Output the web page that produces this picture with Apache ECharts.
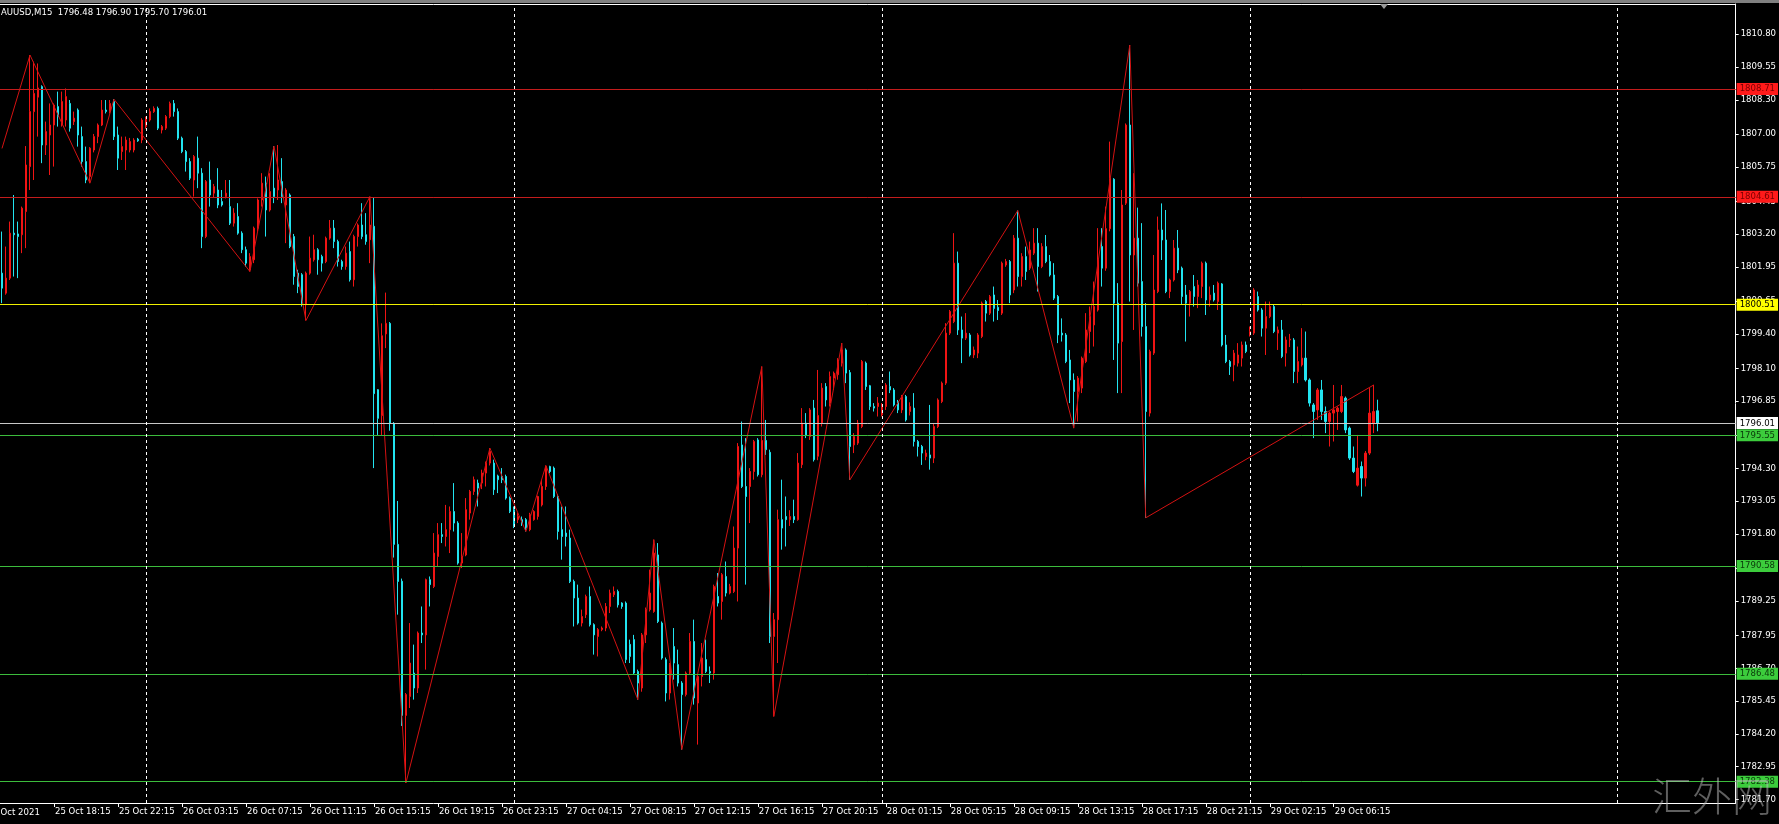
<!DOCTYPE html>
<html><head><meta charset="utf-8">
<script src="https://cdn.jsdelivr.net/npm/echarts@6/dist/echarts.min.js"></script>
<style>html,body{margin:0;padding:0;background:#000;overflow:hidden}#c{width:1779px;height:824px}</style>
</head><body><div id="c"></div>
<script>
const symbolName = 'AUUSD,M15';
const firstDateLabel = '25 Oct 2021';
const slotCount = 434; // bars + empty right shift area
// [open, close, low, high]
const candles = [
[1801.71,1801.14,1800.57,1803.29],[1800.95,1801.52,1800.89,1802.72],[1801.52,1803.23,1801.45,1803.67],[1803.23,1803.17,1801.58,1804.68],
[1803.20,1803.10,1801.52,1803.67],[1803.17,1804.18,1802.47,1804.24],[1804.05,1805.82,1802.66,1806.54],[1805.76,1807.85,1804.87,1810.00],
[1807.85,1808.54,1805.25,1809.75],[1808.40,1808.75,1806.90,1809.68],[1808.80,1806.58,1805.89,1808.85],[1806.58,1807.09,1806.20,1807.47],
[1806.96,1807.34,1805.44,1808.16],[1807.34,1808.10,1805.76,1808.16],[1808.04,1807.66,1807.28,1808.61],[1807.34,1808.23,1807.28,1808.61],
[1807.53,1808.42,1807.28,1808.73],[1808.16,1807.22,1807.09,1808.29],[1807.47,1807.60,1807.34,1807.85],[1807.91,1806.96,1806.52,1807.97],
[1806.90,1805.95,1805.76,1807.28],[1805.95,1805.25,1805.13,1806.52],[1805.38,1806.46,1805.13,1806.50],[1806.39,1806.90,1806.30,1807.00],
[1806.90,1807.34,1806.65,1807.40],[1807.34,1807.91,1807.30,1808.29],[1807.91,1807.85,1807.78,1808.29],[1807.85,1808.16,1807.78,1808.29],
[1808.23,1806.90,1806.77,1808.32],[1806.96,1806.08,1805.63,1807.28],[1806.33,1806.52,1806.01,1806.90],[1806.39,1806.77,1805.63,1806.90],
[1806.39,1806.71,1806.30,1806.85],[1806.39,1806.77,1806.30,1806.84],[1806.80,1806.74,1806.70,1806.85],[1806.77,1807.53,1806.65,1807.60],
[1807.28,1807.60,1807.20,1807.66],[1807.53,1807.85,1807.47,1807.97],[1807.85,1807.97,1807.80,1808.05],[1807.97,1807.22,1807.15,1808.04],
[1807.15,1807.28,1807.02,1807.34],[1807.22,1807.66,1807.15,1807.72],[1807.66,1808.16,1807.60,1808.23],[1808.16,1807.85,1807.66,1808.29],
[1807.85,1806.84,1806.77,1807.97],[1806.84,1806.33,1806.27,1806.90],[1806.33,1805.95,1805.57,1806.39],[1805.95,1805.32,1805.25,1806.08],
[1805.25,1806.14,1804.62,1806.20],[1806.08,1805.51,1804.94,1806.90],[1805.51,1803.10,1802.66,1805.70],[1803.10,1805.19,1803.04,1805.25],
[1805.25,1804.68,1804.24,1805.95],[1804.75,1805.00,1804.60,1805.10],[1804.87,1804.30,1804.18,1805.70],[1804.43,1804.30,1804.24,1804.87],
[1804.62,1804.75,1804.55,1805.25],[1804.24,1803.61,1803.54,1805.25],[1803.61,1803.99,1803.48,1804.18],[1803.86,1803.23,1803.17,1804.37],
[1803.23,1802.60,1802.47,1803.30],[1802.60,1802.09,1801.96,1802.72],[1801.84,1802.34,1801.77,1802.47],[1802.22,1803.42,1802.09,1803.48],
[1803.42,1804.49,1803.29,1804.55],[1804.49,1805.13,1804.24,1805.51],[1805.13,1804.11,1803.10,1805.38],[1804.11,1804.81,1804.05,1805.51],
[1804.94,1804.62,1804.37,1806.54],[1804.87,1805.25,1804.49,1806.58],[1805.19,1804.62,1804.37,1806.08],[1804.30,1804.87,1802.85,1804.94],
[1804.68,1802.72,1802.66,1804.74],[1803.10,1801.58,1801.27,1803.20],[1801.71,1801.20,1800.95,1801.84],[1801.65,1800.57,1800.44,1801.71],
[1800.51,1801.71,1799.91,1801.77],[1801.71,1802.28,1801.65,1803.10],[1802.22,1802.60,1802.15,1803.17],[1802.60,1802.22,1801.65,1802.66],
[1802.34,1802.09,1801.77,1802.41],[1802.15,1803.04,1802.09,1803.10],[1803.04,1803.42,1802.98,1803.73],[1803.42,1802.91,1802.66,1803.73],
[1802.91,1802.15,1801.96,1802.98],[1802.15,1801.96,1801.84,1802.22],[1801.96,1802.47,1801.84,1802.72],[1802.53,1801.46,1801.39,1802.91],
[1801.46,1803.10,1801.20,1803.17],[1803.10,1803.54,1802.72,1803.60],[1803.54,1803.10,1803.00,1804.37],[1803.17,1802.91,1802.79,1803.99],
[1802.98,1803.54,1802.09,1804.62],[1803.49,1797.13,1794.30,1804.58],[1797.28,1796.19,1795.56,1797.30],[1796.30,1799.33,1795.56,1799.80],
[1799.40,1799.80,1798.86,1800.97],[1799.80,1796.00,1795.72,1799.85],[1796.00,1791.40,1790.90,1796.05],[1791.40,1789.99,1788.73,1793.05],
[1790.00,1784.90,1784.50,1790.10],[1784.90,1785.69,1782.33,1785.75],[1785.62,1786.89,1785.18,1788.41],[1786.51,1785.94,1785.50,1787.59],
[1785.94,1788.03,1785.75,1788.09],[1788.03,1787.96,1787.65,1789.04],[1787.96,1790.06,1786.64,1790.10],[1790.06,1789.87,1789.04,1790.18],
[1789.80,1791.07,1789.74,1791.83],[1790.94,1791.77,1790.56,1792.21],[1791.77,1791.70,1791.45,1792.21],[1791.70,1791.96,1791.32,1792.90],
[1791.96,1792.65,1791.07,1792.84],[1792.65,1792.21,1791.89,1793.73],[1792.21,1790.69,1790.63,1792.28],[1790.69,1790.94,1790.50,1791.83],
[1791.00,1792.72,1790.95,1793.16],[1792.59,1793.41,1792.34,1793.47],[1793.41,1793.86,1793.28,1793.98],[1793.73,1793.54,1792.84,1793.86],
[1793.73,1794.11,1793.50,1794.24],[1794.11,1794.49,1793.60,1794.55],[1794.49,1794.93,1794.40,1795.06],[1794.49,1793.48,1793.28,1794.62],
[1794.00,1793.86,1793.35,1794.05],[1793.98,1793.86,1793.73,1794.30],[1793.98,1793.16,1793.10,1794.05],[1793.16,1792.65,1792.59,1793.22],
[1792.72,1792.08,1792.02,1792.84],[1792.34,1792.46,1792.21,1792.59],[1792.34,1792.21,1792.10,1792.46],[1792.34,1792.02,1791.89,1792.40],
[1791.96,1792.53,1791.90,1792.60],[1792.34,1792.65,1792.30,1792.70],[1792.46,1793.22,1792.34,1793.25],[1792.90,1793.60,1792.84,1793.86],
[1793.60,1794.36,1793.47,1794.40],[1794.36,1794.17,1794.10,1794.39],[1794.30,1793.22,1793.16,1794.36],[1793.22,1791.89,1791.58,1793.30],
[1791.96,1791.70,1790.82,1792.84],[1791.83,1791.70,1791.32,1792.84],[1791.64,1789.99,1789.93,1791.96],[1789.99,1789.36,1788.28,1790.06],
[1789.36,1788.41,1788.35,1789.87],[1788.41,1788.66,1788.28,1788.92],[1788.73,1789.42,1788.60,1789.49],[1789.42,1788.35,1788.28,1789.80],
[1788.35,1787.96,1787.21,1788.40],[1787.90,1788.16,1787.14,1788.22],[1788.16,1788.22,1788.10,1788.28],[1788.22,1789.04,1788.10,1789.17],
[1789.04,1789.55,1788.79,1789.68],[1789.49,1789.61,1789.40,1789.80],[1789.61,1789.10,1789.00,1789.68],[1789.17,1789.04,1788.95,1789.20],
[1789.17,1787.02,1786.89,1789.23],[1787.60,1787.14,1786.89,1787.78],[1787.78,1786.51,1786.45,1787.96],[1786.57,1786.13,1785.50,1786.64],
[1785.94,1787.96,1785.80,1788.03],[1787.96,1788.92,1787.65,1789.00],[1788.92,1789.55,1788.85,1790.44],[1788.85,1791.07,1788.80,1791.58],
[1791.00,1788.47,1788.41,1791.45],[1788.41,1787.08,1787.02,1788.47],[1787.02,1785.75,1785.43,1787.10],[1785.75,1786.83,1785.50,1786.89],
[1787.52,1786.89,1786.26,1788.22],[1786.83,1786.13,1786.00,1787.40],[1786.13,1785.69,1783.60,1786.20],[1785.69,1786.51,1785.62,1786.57],
[1786.51,1787.71,1786.45,1788.03],[1787.71,1785.56,1785.31,1788.54],[1785.37,1786.38,1783.79,1786.45],[1786.38,1787.08,1786.00,1787.65],
[1787.02,1786.57,1786.51,1787.78],[1786.57,1786.51,1786.13,1786.76],[1786.51,1789.80,1786.26,1789.87],[1789.42,1789.17,1789.04,1790.31],
[1789.23,1790.25,1788.54,1790.31],[1790.18,1789.55,1789.42,1790.75],[1789.55,1789.80,1789.50,1789.90],[1789.61,1791.26,1789.55,1792.08],
[1791.26,1795.12,1789.23,1795.25],[1795.18,1793.60,1793.54,1796.07],[1793.60,1793.22,1789.87,1795.44],[1793.60,1794.17,1792.21,1794.30],
[1794.17,1795.31,1793.86,1795.37],[1795.37,1794.05,1793.98,1795.44],[1794.05,1795.35,1793.95,1798.16],[1795.35,1795.00,1794.80,1796.13],
[1794.90,1787.90,1787.65,1795.00],[1787.90,1788.54,1784.86,1788.79],[1788.54,1792.34,1786.89,1792.72],[1792.34,1792.02,1791.20,1793.86],
[1792.46,1792.34,1791.32,1793.22],[1792.34,1792.46,1792.10,1792.70],[1792.46,1792.34,1792.21,1793.10],[1792.34,1794.49,1792.30,1794.87],
[1794.43,1796.01,1794.30,1796.58],[1796.01,1795.56,1795.44,1796.39],[1795.50,1796.51,1795.37,1796.58],[1796.58,1794.62,1794.55,1796.89],
[1794.75,1796.30,1794.60,1798.03],[1796.01,1797.34,1795.88,1797.53],[1797.40,1796.89,1796.64,1797.53],[1796.77,1797.78,1796.64,1797.97],
[1797.72,1797.91,1797.27,1797.97],[1797.85,1798.41,1797.66,1798.48],[1798.29,1798.79,1798.16,1799.05],[1798.79,1797.91,1797.53,1798.85],
[1797.93,1795.12,1793.85,1798.03],[1795.18,1795.50,1794.87,1795.63],[1795.25,1796.01,1795.18,1796.13],[1795.88,1798.35,1795.82,1798.41],
[1798.29,1797.40,1797.27,1798.35],[1797.43,1796.64,1796.51,1797.46],[1796.64,1796.58,1796.45,1796.77],[1796.64,1796.77,1796.26,1797.00],
[1796.32,1796.64,1796.26,1796.77],[1796.64,1797.46,1796.51,1797.53],[1797.40,1797.27,1797.15,1797.97],[1797.27,1796.70,1796.64,1797.34],
[1796.83,1796.51,1796.39,1796.89],[1796.51,1797.02,1796.39,1797.08],[1797.02,1796.13,1796.07,1797.08],[1796.45,1796.64,1796.30,1796.80],
[1796.58,1795.31,1795.12,1797.15],[1795.31,1795.12,1794.74,1795.37],[1795.12,1794.87,1794.42,1795.18],[1794.74,1794.87,1794.60,1795.00],
[1794.80,1794.68,1794.24,1796.70],[1794.68,1795.88,1794.49,1796.01],[1795.88,1796.89,1795.82,1796.95],[1796.83,1797.53,1796.77,1797.59],
[1797.53,1799.43,1797.46,1799.81],[1799.43,1800.25,1799.36,1800.31],[1799.87,1802.09,1799.81,1803.23],[1802.09,1799.55,1799.36,1802.53],
[1799.55,1799.24,1798.29,1800.06],[1799.24,1799.43,1799.17,1800.19],[1799.36,1798.60,1798.54,1799.43],[1798.60,1798.79,1798.48,1798.92],
[1798.67,1799.36,1798.48,1799.43],[1799.30,1800.57,1799.24,1800.63],[1800.63,1800.19,1799.87,1800.69],[1800.19,1800.82,1800.12,1800.88],
[1800.88,1800.37,1799.87,1801.20],[1800.41,1800.29,1799.93,1800.69],[1800.19,1802.09,1800.12,1802.15],[1802.02,1802.15,1801.95,1802.25],
[1802.15,1800.88,1800.57,1802.21],[1801.07,1803.04,1800.95,1803.16],[1803.04,1801.58,1801.20,1804.09],[1801.58,1802.34,1801.20,1802.47],
[1802.34,1801.77,1801.45,1802.72],[1801.90,1802.59,1801.83,1802.91],[1802.47,1802.85,1802.40,1803.42],[1802.85,1801.96,1801.01,1803.42],
[1801.96,1802.72,1801.90,1802.85],[1802.72,1802.15,1802.09,1803.16],[1802.15,1801.64,1801.58,1802.40],[1801.64,1800.76,1800.69,1802.09],
[1800.82,1799.36,1799.05,1800.88],[1799.43,1799.36,1799.11,1799.99],[1799.36,1798.35,1798.29,1799.43],[1798.41,1797.65,1796.77,1798.79],
[1797.65,1797.21,1795.82,1797.90],[1797.21,1797.72,1796.07,1797.80],[1797.34,1798.48,1797.15,1798.54],[1798.35,1799.55,1798.29,1800.19],
[1799.49,1800.06,1798.67,1800.44],[1799.74,1800.44,1798.92,1801.39],[1800.31,1802.21,1800.25,1803.42],[1802.72,1801.90,1801.20,1803.42],
[1801.90,1803.40,1801.80,1804.24],[1803.40,1805.32,1803.30,1806.71],[1805.28,1800.57,1798.41,1805.32],[1800.57,1799.05,1797.15,1801.33],
[1799.11,1804.30,1797.15,1804.87],[1804.37,1807.34,1804.30,1807.40],[1807.34,1802.40,1800.63,1810.38],[1802.40,1803.04,1799.55,1805.51],
[1803.04,1801.33,1801.20,1804.20],[1801.39,1799.68,1799.30,1803.61],[1799.68,1796.45,1792.41,1800.57],[1796.39,1798.73,1796.26,1798.80],
[1798.67,1801.07,1798.60,1802.40],[1801.01,1803.35,1800.95,1803.86],[1803.35,1802.97,1802.21,1804.36],[1802.97,1801.01,1800.95,1804.11],
[1801.01,1801.45,1800.76,1801.50],[1801.45,1802.66,1801.39,1802.97],[1802.66,1801.83,1801.71,1803.35],[1801.90,1800.82,1800.50,1801.96],
[1800.88,1800.57,1799.11,1801.26],[1800.57,1801.01,1800.06,1801.07],[1801.20,1800.82,1800.44,1801.64],[1800.82,1801.26,1800.38,1801.45],
[1801.20,1802.09,1800.76,1802.15],[1802.09,1800.69,1800.12,1802.15],[1800.69,1800.88,1800.44,1801.20],[1800.95,1800.69,1800.63,1801.26],
[1800.63,1801.33,1800.31,1801.39],[1801.30,1798.98,1798.92,1801.33],[1798.98,1798.35,1798.29,1799.36],[1798.35,1798.16,1797.84,1798.41],
[1798.22,1798.67,1797.60,1798.79],[1798.29,1798.60,1798.16,1799.05],[1798.48,1798.98,1798.16,1799.11],[1798.98,1798.73,1798.67,1799.11],
[1799.36,1799.49,1799.30,1799.68],[1799.43,1801.07,1799.36,1801.14],[1800.82,1800.31,1800.25,1801.01],[1800.31,1799.62,1799.30,1800.38],
[1799.62,1800.06,1798.60,1800.63],[1800.06,1800.44,1800.00,1800.63],[1800.44,1799.49,1799.43,1800.50],[1799.43,1799.55,1798.79,1799.68],
[1799.55,1798.54,1798.48,1799.93],[1798.67,1799.17,1798.16,1799.30],[1799.17,1799.20,1798.90,1799.40],[1799.17,1797.97,1797.53,1799.24],
[1797.97,1798.35,1797.53,1798.92],[1798.22,1798.48,1798.16,1799.62],[1798.48,1797.65,1797.59,1799.49],[1797.65,1796.77,1796.64,1797.71],
[1796.70,1796.45,1795.44,1796.77],[1796.51,1797.27,1796.13,1797.34],[1797.27,1796.45,1796.13,1797.65],[1796.45,1796.07,1795.63,1796.64],
[1796.07,1796.39,1795.12,1796.45],[1796.39,1796.51,1795.31,1797.46],[1796.45,1796.58,1795.75,1796.64],[1796.45,1797.02,1796.39,1797.46],
[1796.96,1795.75,1795.63,1797.02],[1795.82,1794.68,1794.61,1795.88],[1794.68,1794.17,1794.11,1795.12],[1793.65,1794.30,1793.60,1795.56],
[1794.36,1793.92,1793.22,1794.55],[1793.92,1794.87,1793.60,1794.95],[1794.87,1796.39,1794.80,1797.34],[1796.01,1796.45,1795.63,1797.46],
[1796.48,1796.01,1795.70,1796.90]
];
// ZigZag vertices: [bar index, price]
const zigzag = [[0,1806.45],[7,1810.00],[22,1805.13],[28,1808.32],[62,1801.77],[68,1806.54],[76,1799.91],[92,1804.62],
[101,1782.33],[122,1795.06],[131,1791.89],[136,1794.40],[159,1785.50],[163,1791.58],[170,1783.60],[190,1798.16],
[193,1784.86],[210,1799.05],[212,1793.85],[254,1804.09],[268,1795.82],[282,1810.38],[286,1792.41],[343,1797.46]];
const timeLabels = [[13,'25 Oct 18:15'],[29,'25 Oct 22:15'],[45,'26 Oct 03:15'],[61,'26 Oct 07:15'],[77,'26 Oct 11:15'],
[93,'26 Oct 15:15'],[109,'26 Oct 19:15'],[125,'26 Oct 23:15'],[141,'27 Oct 04:15'],[157,'27 Oct 08:15'],[173,'27 Oct 12:15'],
[189,'27 Oct 16:15'],[205,'27 Oct 20:15'],[221,'28 Oct 01:15'],[237,'28 Oct 05:15'],[253,'28 Oct 09:15'],[269,'28 Oct 13:15'],
[285,'28 Oct 17:15'],[301,'28 Oct 21:15'],[317,'29 Oct 02:15'],[333,'29 Oct 06:15']];
const daySeparators = [36,128,220,312,404];
const resistanceLevels = [1808.71,1804.61];
const pivotLevel = 1800.51;
const supportLevels = [1795.55,1790.58,1786.48,1782.38];
const yTicks = [1781.70,1782.95,1784.20,1785.45,1786.70,1787.95,1789.25,1790.50,1791.80,1793.05,1794.30,1795.55,
1796.85,1798.10,1799.40,1800.65,1801.95,1803.20,1804.45,1805.75,1807.00,1808.30,1809.55,1810.80];
const watermarkText = '汇外网';

// pick a narrow font if one is installed, otherwise use a slightly smaller regular one
function pickFont() {
  const cv = document.createElement('canvas').getContext('2d');
  const probe = '25 Oct 18:15 1810.80';
  const w = (f) => { cv.font = f; return cv.measureText(probe).width; };
  const cands = ['Liberation Sans Narrow', 'DejaVu Sans Condensed', 'Arial Narrow', 'Noto Sans Condensed', 'Roboto Condensed', 'Open Sans Condensed'];
  for (const n of cands) {
    const a = w(`11px "${n}", monospace`), b = w('11px monospace');
    const c = w(`11px "${n}", serif`), d = w('11px serif');
    if (a !== b && c !== d) {
      const t = w(`11px "${n}"`);
      return { family: `"${n}"`, size: Math.min(11, Math.round(11 * 92 / t * 2) / 2) };
    }
  }
  return { family: '"Liberation Sans"', size: 10 };
}
const PF = pickFont();
const FONT = PF.family + ',Arial,sans-serif';
const FS = PF.size;
const UP = '#f01414', DOWN = '#22e4f0';

const cats = [];
for (let i = 0; i < slotCount; i++) cats.push(String(i));
const labelMap = {};
timeLabels.forEach(([i, t]) => { labelMap[i] = t; });
const candleData = cats.map((c, i) => i < candles.length ? candles[i] : '-');
const zzData = cats.map(() => null);
zigzag.forEach(([i, v]) => { zzData[i] = v; });
const last = candles[candles.length - 1];
const bid = last[1];
const fmt = v => v.toFixed(2);

function lvl(v, lineColor, bg, fg) {
  return { yAxis: v, lineStyle: { color: lineColor, width: 1, type: 'solid' },
    label: { backgroundColor: bg, color: fg } };
}
const levelData = [
  ...resistanceLevels.map(v => lvl(v, '#c41c1c', '#ff1a1a', '#7a0000')),
  lvl(pivotLevel, '#f0f000', '#ffff00', '#000'),
  lvl(bid, '#c8c8c8', '#ffffff', '#000'),
  ...supportLevels.map(v => lvl(v, '#3cbc3c', '#3ccc3c', '#0a380a'))
];

const chart = echarts.init(document.getElementById('c'), null, { renderer: 'canvas' });
chart.setOption({
  backgroundColor: '#000',
  animation: false,
  grid: { left: 0, right: 43, top: 4, bottom: 21, containLabel: false },
  xAxis: [{
    type: 'category', data: cats, boundaryGap: true,
    axisLine: { show: true, lineStyle: { color: '#fff', width: 1 } },
    axisTick: { show: true, alignWithLabel: true, length: 4, lineStyle: { color: '#fff' },
      interval: (i) => labelMap[i] !== undefined },
    axisLabel: { show: true, interval: (i) => labelMap[i] !== undefined,
      formatter: (v, i) => labelMap[i] || '', color: '#fff', fontFamily: FONT, fontSize: FS,
      align: 'left', margin: 4, padding: [0, 0, 0, 1] },
    splitLine: { show: false }
  }, {
    type: 'category', data: cats, position: 'top',
    axisLine: { show: true, lineStyle: { color: '#fff', width: 1 } },
    axisTick: { show: false }, axisLabel: { show: false }, splitLine: { show: false }
  }],
  yAxis: {
    type: 'value', position: 'right', min: 1781.57, max: 1811.94, scale: true,
    axisLine: { show: true, lineStyle: { color: '#fff', width: 1 } },
    axisTick: { show: true, length: 3, customValues: yTicks, lineStyle: { color: '#fff' } },
    axisLabel: { show: true, customValues: yTicks, formatter: v => fmt(v), color: '#fff',
      fontFamily: FONT, fontSize: FS, margin: 5 },
    splitLine: { show: false }
  },
  series: [{
    type: 'candlestick', data: candleData, barWidth: 2,
    itemStyle: { color: UP, color0: DOWN, borderColor: UP, borderColor0: DOWN, borderWidth: 1 },
    markLine: {
      silent: true, symbol: ['none', 'none'], animation: false, z: 5,
      label: { show: true, position: 'end', distance: 1, fontFamily: FONT, fontSize: FS,
        padding: [1, 3, 0, 3], lineHeight: 11, formatter: p => fmt(p.value) },
      data: levelData
    }
  }, {
    type: 'line', data: zzData, connectNulls: true, showSymbol: false, symbol: 'none', z: 3,
    lineStyle: { color: '#d41212', width: 1 }
  }, {
    type: 'line', data: [], z: 6,
    markLine: {
      silent: true, symbol: ['none', 'none'], animation: false,
      label: { show: false },
      lineStyle: { color: '#ffffff', width: 1, type: [3, 3] },
      data: daySeparators.map(i => ({ xAxis: i }))
    }
  }],
  graphic: [
    { type: 'rect', left: 0, top: 0, shape: { width: 1779, height: 3 }, style: { fill: '#808080' }, z: 10 },
    { type: 'text', x: 1, y: 13, z: 10, style: { text: symbolName + '  ' + [last[0], last[3], last[2], last[1]].map(fmt).join(' '),
      fill: '#fff', font: FS + 'px ' + FONT, verticalAlign: 'middle' } },
    { type: 'text', x: -13, y: 813, z: 10, style: { text: firstDateLabel, fill: '#fff', font: FS + 'px ' + FONT, verticalAlign: 'middle' } },
    { type: 'polygon', z: 10, shape: { points: [[1380, 4], [1388, 4], [1384, 9]] }, style: { fill: '#9a9a9a' } },
    { type: 'text', x: 1652, y: 796, z: 20, style: { text: watermarkText, fill: 'rgba(190,190,190,0.5)',
      font: '300 40px "Noto Sans CJK SC"', verticalAlign: 'middle' } }
  ]
});
</script></body></html>
